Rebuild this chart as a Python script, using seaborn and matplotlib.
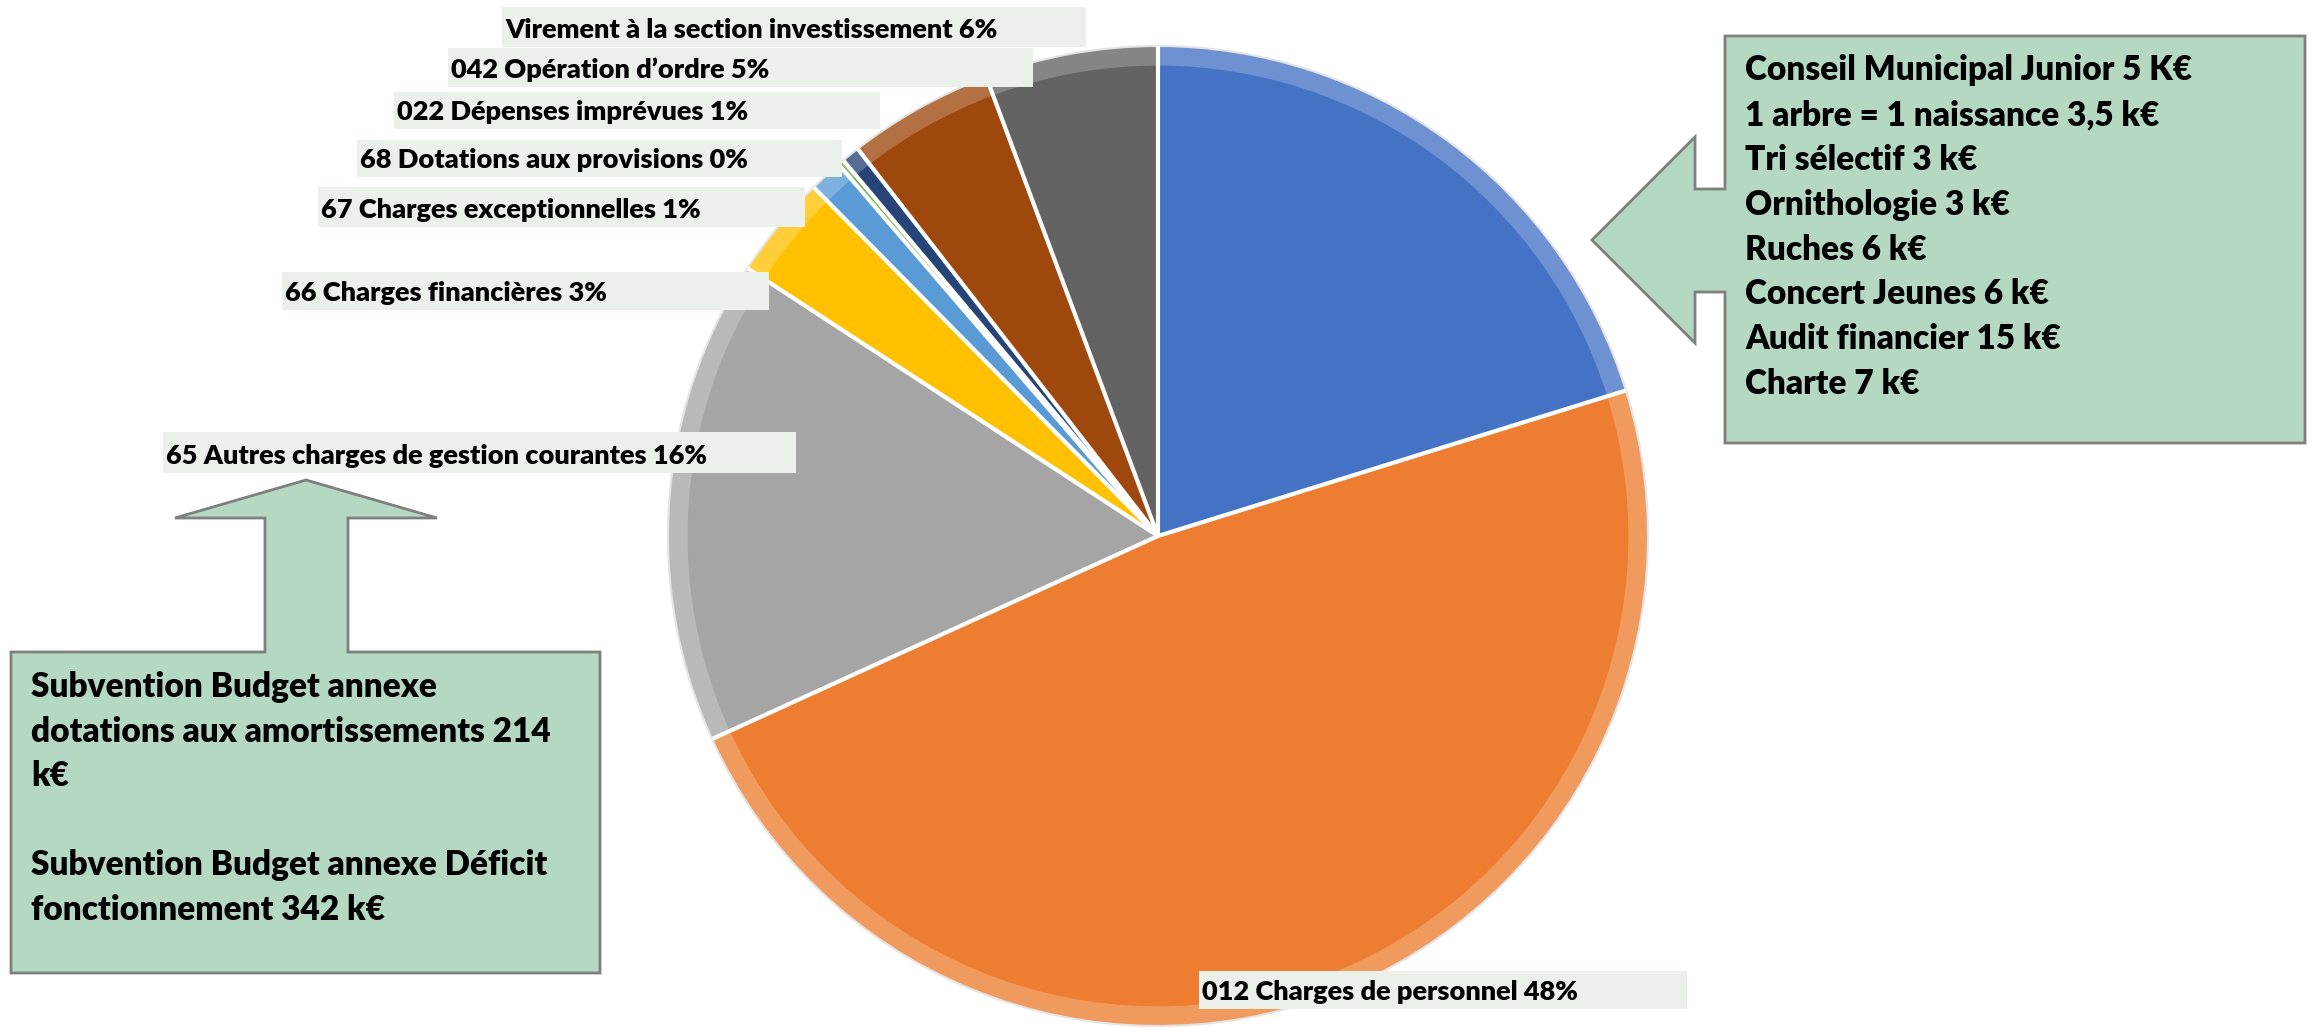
import matplotlib
matplotlib.use("Agg")
import numpy as np
import matplotlib.pyplot as plt
import matplotlib.colors as mcolors
from matplotlib.patches import Rectangle, Polygon
import seaborn as sns

# postes du budget de fonctionnement (parts en %)
postes = ["011 Charges à caractère général", "012 Charges de personnel",
          "65 Autres charges de gestion courantes", "66 Charges financières",
          "67 Charges exceptionnelles", "68 Dotations aux provisions",
          "022 Dépenses imprévues", "042 Opération d’ordre",
          "Virement à la section investissement"]
parts = [20.2, 48.0, 16.0, 3.4, 1.1, 0.2, 0.6, 4.8, 5.7]
couleurs = ["#4472C4", "#ED7D31", "#A5A5A5", "#FFC000", "#5B9BD5",
            "#70AD47", "#264478", "#9E480E", "#636363"]

# texte des encadrés
actions = ["Conseil Municipal Junior 5 K€", "1 arbre = 1 naissance 3,5 k€",
           "Tri sélectif 3 k€", "Ornithologie 3 k€", "Ruches 6 k€",
           "Concert Jeunes 6 k€", "Audit financier 15 k€", "Charte 7 k€"]
subventions = ["Subvention Budget annexe", "dotations aux amortissements 214",
               "k€", "", "Subvention Budget annexe Déficit",
               "fonctionnement 342 k€"]

sns.set_theme(style="white")
plt.rcParams['font.family'] = ['Lato', 'DejaVu Sans']

W, H = 2313, 1028
fig = plt.figure(figsize=(W / 100, H / 100), dpi=100)

# camembert
cx, cy, r = 1158, 536, 490
m = 1.02
ax = fig.add_axes([(cx - r * m) / W, (H - cy - r * m) / H, 2 * r * m / W, 2 * r * m / H])
clair = [mcolors.to_hex([c + (1 - c) * 0.22 for c in mcolors.to_rgb(col)]) for col in couleurs]
wedges, _ = ax.pie(parts, colors=clair, startangle=90, counterclock=False, radius=1,
                   wedgeprops=dict(edgecolor='#E4E4E4', linewidth=1.5))
ax.pie(parts, colors=couleurs, startangle=90, counterclock=False, radius=0.96,
       wedgeprops=dict(linewidth=0))
# séparations blanches entre les parts
for w in wedges:
    a = np.deg2rad(w.theta1)
    ax.plot([0, np.cos(a)], [0, np.sin(a)], color='white', lw=3, solid_capstyle='butt')
ax.set_xlim(-m, m)
ax.set_ylim(-m, m)
ax.axis('off')

# calque en pixels pour les étiquettes et encadrés
ov = fig.add_axes([0, 0, 1, 1])
ov.set_xlim(0, W)
ov.set_ylim(H, 0)
ov.axis('off')
ov.patch.set_alpha(0)

# position des étiquettes (x, y, largeur, hauteur)
boites = {1: (1199, 971, 488, 38), 2: (163, 432, 633, 41), 3: (282, 272, 487, 38),
          4: (318, 187, 487, 40), 5: (357, 140, 485, 37), 6: (394, 92, 486, 37),
          7: (448, 48, 585, 39), 8: (502, 7, 584, 40)}
total = sum(parts)
for i, (x, y, w, h) in boites.items():
    ov.add_patch(Rectangle((x, y), w, h, facecolor='#EBF0EA', edgecolor='none'))
    txt = f"{postes[i]} {round(parts[i] / total * 100):.0f}%"
    ov.text(x + 3, y + h - 9, txt, fontsize=19.5, fontweight='heavy',
            color='black', va='baseline', ha='left')

vert = '#B5D8C3'
bord = '#7F7F7F'

# encadré de droite avec flèche vers la gauche
droite = [(1725, 36), (2305, 36), (2305, 443), (1725, 443), (1725, 292),
          (1695, 292), (1695, 343), (1592, 240), (1695, 137), (1695, 189),
          (1725, 189)]
ov.add_patch(Polygon(droite, closed=True, facecolor=vert, edgecolor=bord, linewidth=2))
for k, ligne in enumerate(actions):
    ov.text(1745, 80 + k * 44.9, ligne, fontsize=24, fontweight='heavy',
            color='black', va='baseline', ha='left')

# encadré de gauche avec flèche vers le haut
gauche = [(11, 652), (265, 652), (265, 518), (175, 518), (306, 480),
          (437, 518), (348, 518), (348, 652), (600, 652), (600, 973), (11, 973)]
ov.add_patch(Polygon(gauche, closed=True, facecolor=vert, edgecolor=bord, linewidth=2))
for k, ligne in enumerate(subventions):
    ov.text(31, 697 + k * 44.6, ligne, fontsize=24, fontweight='heavy',
            color='black', va='baseline', ha='left')

fig.savefig('out.png', dpi=100, facecolor='white')
